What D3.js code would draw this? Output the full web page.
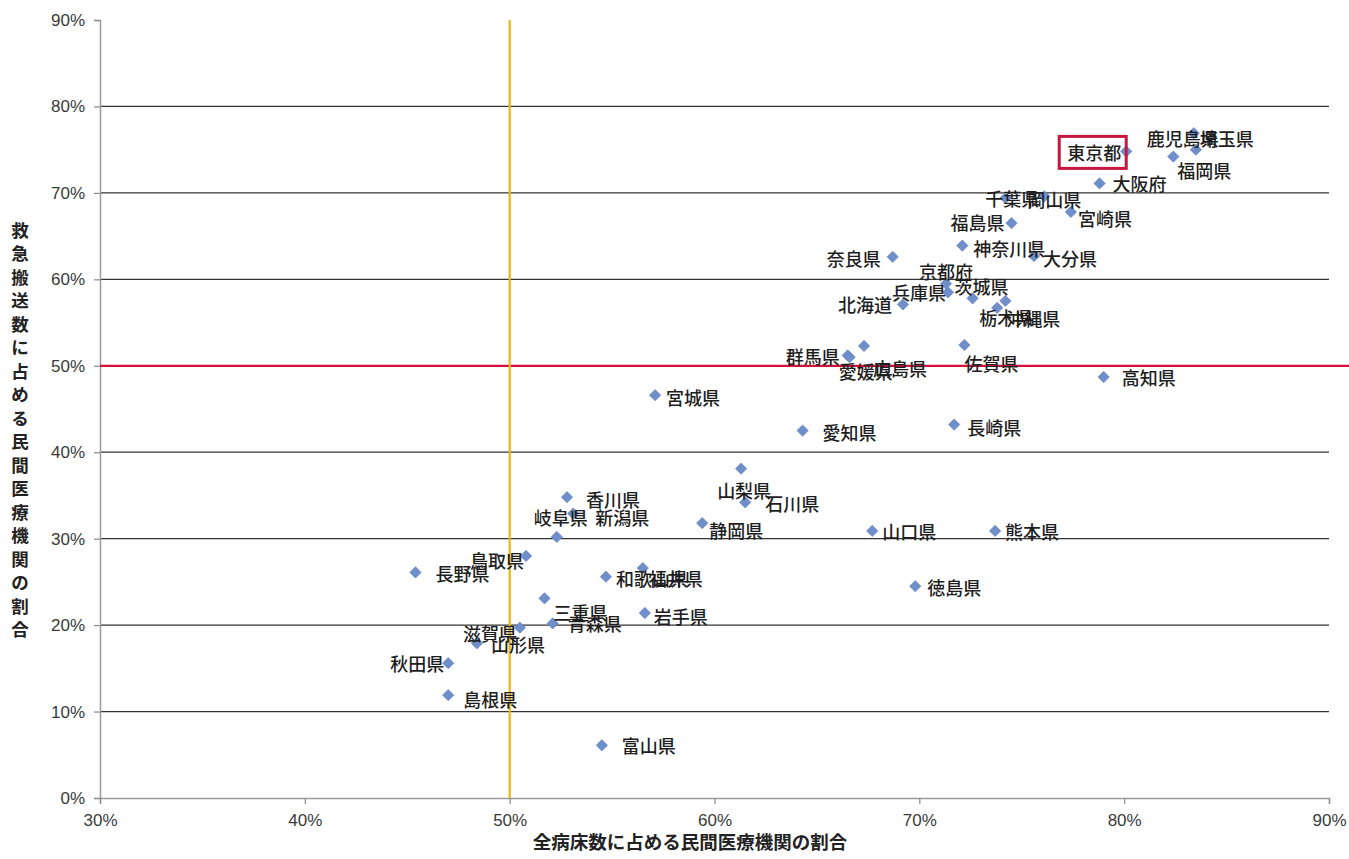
<!DOCTYPE html>
<html><head><meta charset="utf-8">
<script src="https://cdn.jsdelivr.net/npm/d3@7"></script>
<style>
html,body{margin:0;padding:0;background:#fff;}
svg{display:block;}
</style></head>
<body>
<div id="chart"></div>
<script>
// ---- data ----
const prefectures = ["北海道","青森県","岩手県","宮城県","秋田県","山形県","福島県","茨城県","栃木県","群馬県","埼玉県","千葉県","東京都","神奈川県","新潟県","富山県","石川県","福井県","山梨県","長野県","岐阜県","静岡県","愛知県","三重県","滋賀県","京都府","大阪府","兵庫県","奈良県","和歌山県","鳥取県","島根県","岡山県","広島県","山口県","徳島県","香川県","愛媛県","高知県","福岡県","佐賀県","長崎県","熊本県","大分県","宮崎県","鹿児島県","沖縄県"];
// 全病床数に占める民間医療機関の割合 (%)
const bedShare = [69.2,52.1,56.6,57.1,47.0,48.4,74.5,72.6,73.8,66.5,83.4,74.2,80.1,72.1,53.1,54.5,61.5,56.5,61.3,45.4,52.3,59.4,64.3,51.7,50.5,71.3,78.8,71.4,68.7,54.7,50.8,47.0,76.1,67.3,67.7,69.8,52.8,66.6,79.0,82.4,72.2,71.7,73.7,75.6,77.4,83.5,74.2];
// 救急搬送数に占める民間医療機関の割合 (%)
const transportShare = [57.1,20.2,21.4,46.6,15.6,17.9,66.5,57.8,56.7,51.2,76.9,69.4,74.8,63.9,32.9,6.1,34.2,26.6,38.1,26.1,30.2,31.8,42.5,23.1,19.7,59.5,71.1,58.5,62.6,25.6,28.0,11.9,69.6,52.3,30.9,24.5,34.8,51.0,48.7,74.2,52.4,43.2,30.9,62.7,67.8,75.0,57.5];
const xTicks = [30,40,50,60,70,80,90];
const yTicks = [0,10,20,30,40,50,60,70,80,90];
const refX = 50, refY = 50;
const highlighted = "東京都";
const xTitle = "全病床数に占める民間医療機関の割合";
const yTitle = "救急搬送数に占める民間医療機関の割合";

// ---- label layout (offsets from marker, px) ----
const labelOffsets = {
 "東京都":[-59,1],"鹿児島県":[-49,-12],"埼玉県":[6,5],"福岡県":[4,13],"大阪府":[13,0],"宮崎県":[7,6],
 "千葉県":[-20,0],"岡山県":[-17,3],"福島県":[-61,-1],"神奈川県":[11,2],"大分県":[9,2],"奈良県":[-66,1],
 "京都府":[-27,-13],"兵庫県":[-56,0],"茨城県":[-18,-12],"北海道":[-65,0],"栃木県":[-18,9],"沖縄県":[1,17],
 "群馬県":[-62,1],"愛媛県":[-11,14],"広島県":[9,22],"佐賀県":[0,18],"高知県":[18,0],"宮城県":[11,2],
 "愛知県":[20,1],"長崎県":[13,2],"山梨県":[-24,21],"石川県":[20,1],"静岡県":[7,7],"山口県":[10,0],
 "熊本県":[10,0],"徳島県":[12,1],"香川県":[19,2],"新潟県":[22,3],"岐阜県":[-23,-20],"鳥取県":[-56,4],
 "長野県":[20,1],"和歌山県":[10,1],"福井県":[6,10],"岩手県":[9,3],"三重県":[9,14],"青森県":[15,0],
 "滋賀県":[-57,5],"山形県":[14,1],"秋田県":[-58,0],"島根県":[15,4],"富山県":[20,0]
};

const W = 1349, H = 859;
const svg = d3.select("#chart").append("svg").attr("width", W).attr("height", H);
const x = d3.scaleLinear().domain([30,90]).range([100,1329]);
const y = d3.scaleLinear().domain([0,90]).range([798,20]);
const fmt = d => d + "%";
const cjk = "'Noto Sans CJK JP','Noto Sans',sans-serif";

// gridlines
svg.append("g").selectAll("line").data(yTicks.filter(t => t > 0 && t < 90)).join("line")
  .attr("x1", x(30)).attr("x2", x(90)).attr("y1", d => y(d)).attr("y2", d => y(d))
  .attr("stroke", "#333").attr("stroke-width", 1.3);

// axes
const yAxis = svg.append("g").attr("transform", `translate(${x(30)},0)`)
  .call(d3.axisLeft(y).tickValues(yTicks).tickFormat(fmt).tickSize(6).tickPadding(9));
const xAxis = svg.append("g").attr("transform", `translate(0,${y(0)})`)
  .call(d3.axisBottom(x).tickValues(xTicks).tickFormat(fmt).tickSize(6).tickPadding(10));
[yAxis, xAxis].forEach(g => {
  g.attr("font-size", 17).attr("font-family", "'Liberation Sans',Arial,sans-serif");
  g.select(".domain").attr("stroke", "#9a9a9a").attr("stroke-width", 1.5);
  g.selectAll(".tick line").attr("stroke", "#8a8a8a").attr("stroke-width", 1.2);
  g.selectAll(".tick text").attr("fill", "#3a3a3a").attr("font-size", 17)
    .attr("style", "font-size:17px;font-family:'Liberation Sans',Arial,sans-serif");
});

// reference lines
svg.append("line").attr("x1", x(30)).attr("x2", W).attr("y1", y(refY)).attr("y2", y(refY))
  .attr("stroke", "#d4123c").attr("stroke-width", 2.2);
svg.append("line").attr("x1", x(refX)).attr("x2", x(refX)).attr("y1", y(90)).attr("y2", y(0))
  .attr("stroke", "#eeb612").attr("stroke-width", 2.2);

// points
const pts = prefectures.map((n, i) => ({name: n, bx: bedShare[i], ty: transportShare[i]}));
svg.append("g").selectAll("path").data(pts).join("path")
  .attr("d", d3.symbol(d3.symbolSquare, 64)())
  .attr("transform", d => `translate(${x(d.bx)},${y(d.ty)}) rotate(45)`)
  .attr("fill", "#6f8fcb").attr("stroke", "#5f7fbd").attr("stroke-width", 0.6);

// highlight box
const hl = pts.find(d => d.name === highlighted);
const ho = labelOffsets[highlighted];
svg.append("rect")
  .attr("x", x(hl.bx) + ho[0] - 8).attr("y", y(hl.ty) + ho[1] - 16)
  .attr("width", 67).attr("height", 32)
  .attr("fill", "none").attr("stroke", "#c8173f").attr("stroke-width", 3);

// labels
svg.append("g").selectAll("text").data(pts).join("text")
  .attr("x", d => x(d.bx) + (labelOffsets[d.name] || [12,0])[0])
  .attr("y", d => y(d.ty) + (labelOffsets[d.name] || [12,0])[1])
  .attr("dominant-baseline", "central")
  .style("font-family", cjk).style("font-size", "18px").style("font-weight", 500)
  .attr("fill", "#1e1e1e").text(d => d.name);

// axis titles
svg.append("text").attr("x", 690).attr("y", 849)
  .attr("text-anchor", "middle").style("font-family", cjk).style("font-size", "18.5px").style("font-weight", 700)
  .attr("fill", "#222").text(xTitle);
const chars = Array.from(yTitle);
svg.append("g").selectAll("text").data(chars).join("text")
  .attr("x", 20).attr("y", (d, i) => 229 + i * 23.5)
  .attr("text-anchor", "middle").attr("dominant-baseline", "central")
  .style("font-family", cjk).style("font-size", "17.5px").style("font-weight", 700)
  .attr("fill", "#222").text(d => d);
</script>
</body></html>
